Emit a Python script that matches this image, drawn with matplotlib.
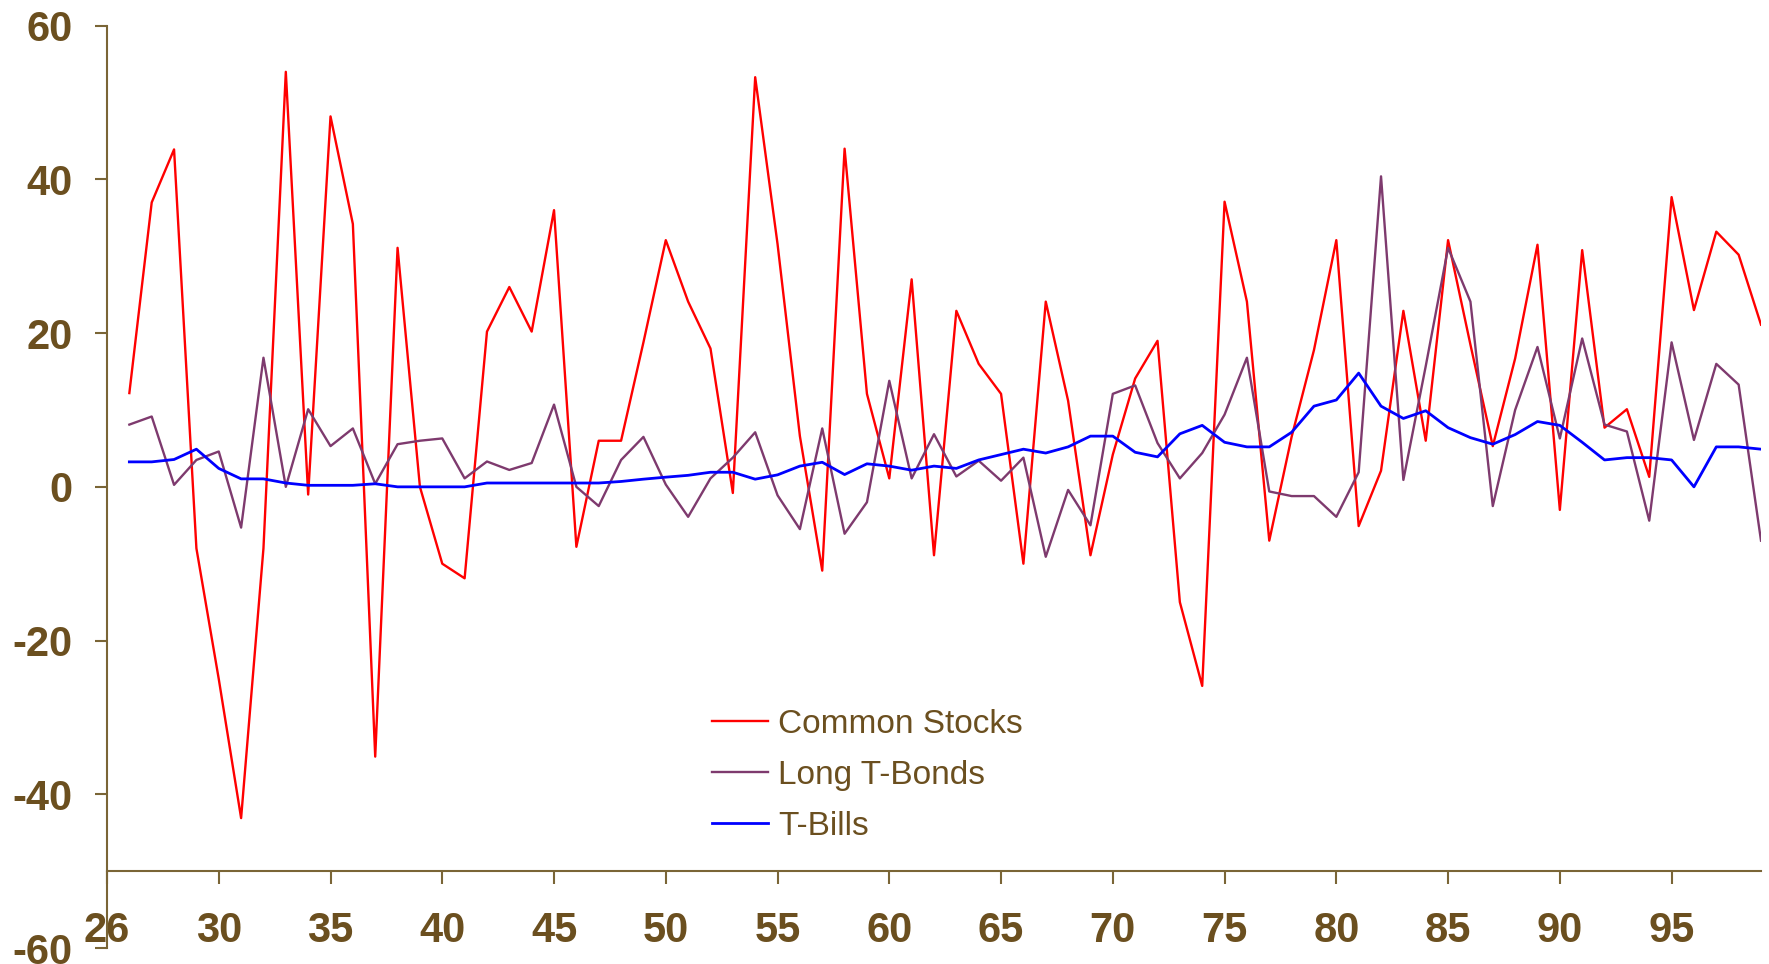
import numpy as np
import matplotlib
matplotlib.use("Agg")
import matplotlib.pyplot as plt

# Annual returns (%) by year, 1926-1999
years = np.arange(1926, 2000)

common_stocks = [
    12.2, 37.0, 43.9, -8.0, -25.0, -43.1, -8.0, 54.0, -1.0, 48.2,
    34.2, -35.1, 31.1, 0.0, -10.0, -11.9, 20.2, 26.0, 20.2, 36.0,
    -7.8, 6.0, 6.0, 18.8, 32.1, 24.1, 18.0, -0.8, 53.3, 31.6,
    6.6, -10.9, 44.0, 12.1, 1.1, 27.0, -8.9, 22.9, 16.0, 12.1,
    -10.0, 24.1, 11.2, -8.9, 4.2, 14.1, 19.0, -15.0, -25.9, 37.1,
    24.1, -7.0, 6.5, 17.8, 32.1, -5.1, 2.1, 22.9, 6.0, 32.1,
    18.5, 5.3, 16.7, 31.5, -3.0, 30.8, 7.7, 10.1, 1.3, 37.7,
    23.0, 33.2, 30.2, 21.1,
]

long_t_bonds = [
    8.1, 9.15, 0.26, 3.5, 4.6, -5.3, 16.8, 0.0, 10.1, 5.3,
    7.6, 0.4, 5.55, 6.0, 6.3, 1.1, 3.3, 2.2, 3.1, 10.7,
    0.0, -2.5, 3.5, 6.5, 0.3, -3.9, 1.1, 3.8, 7.1, -1.1,
    -5.5, 7.6, -6.1, -2.0, 13.8, 1.1, 6.85, 1.35, 3.4, 0.8,
    3.8, -9.1, -0.4, -5.0, 12.1, 13.2, 5.7, 1.1, 4.4, 9.4,
    16.8, -0.6, -1.2, -1.2, -3.9, 1.9, 40.4, 0.9, 15.7, 31.1,
    24.1, -2.5, 10.0, 18.2, 6.3, 19.3, 8.1, 7.2, -4.4, 18.8,
    6.1, 16.0, 13.3, -7.0,
]

t_bills = [
    3.25, 3.25, 3.56, 4.9, 2.4, 1.04, 1.04, 0.5, 0.2, 0.2,
    0.2, 0.4, 0.0, 0.0, 0.0, 0.0, 0.5, 0.5, 0.5, 0.5,
    0.5, 0.5, 0.7, 1.0, 1.26, 1.5, 1.9, 1.9, 1.0, 1.56,
    2.7, 3.2, 1.6, 3.0, 2.7, 2.17, 2.7, 2.4, 3.5, 4.2,
    4.9, 4.4, 5.2, 6.6, 6.6, 4.5, 3.9, 6.9, 8.0, 5.8,
    5.2, 5.2, 7.1, 10.5, 11.3, 14.8, 10.5, 8.9, 9.9, 7.7,
    6.4, 5.55, 6.8, 8.5, 8.0, 5.8, 3.5, 3.8, 3.8, 3.5,
    0.0, 5.2, 5.2, 4.9,
]

x_tick_years = [1925, 1930, 1935, 1940, 1945, 1950, 1955, 1960,
                1965, 1970, 1975, 1980, 1985, 1990, 1995]
x_tick_labels = ["26", "30", "35", "40", "45", "50", "55", "60",
                 "65", "70", "75", "80", "85", "90", "95"]
y_ticks = [-60, -40, -20, 0, 20, 40, 60]

TEXT = "#6B4F1F"
AXIS = "#7A6536"

plt.rcParams["font.family"] = ["Liberation Sans", "DejaVu Sans"]

W, H = 1769, 964
fig = plt.figure(figsize=(W / 100, H / 100), dpi=100)
ax = fig.add_axes([107 / W, 16 / H, (1761 - 107) / W, (948 - 25.7) / H])

ax.plot(years, common_stocks, color="#FF0000", lw=1.7, label="Common Stocks")
ax.plot(years, long_t_bonds, color="#7E3A6E", lw=1.7, label="Long T-Bonds")
ax.plot(years, t_bills, color="#0000FF", lw=2.0, label="T-Bills")

ax.set_xlim(1925, 1999)
ax.set_ylim(-60, 60)

for side in ("top", "right"):
    ax.spines[side].set_visible(False)
ax.spines["bottom"].set_position(("data", -50))
for side in ("left", "bottom"):
    ax.spines[side].set_color(AXIS)
    ax.spines[side].set_linewidth(1.5)

ax.set_yticks(y_ticks)
ax.set_yticklabels([str(v) for v in y_ticks])
ax.set_xticks(x_tick_years)
ax.set_xticklabels(x_tick_labels)

ax.tick_params(axis="y", direction="out", length=8.6, width=1.5, color=AXIS,
               pad=16, labelsize=30, labelcolor=TEXT)
ax.tick_params(axis="x", direction="out", length=9.4, width=1.5, color=AXIS,
               pad=19, labelsize=30, labelcolor=TEXT)
for lbl in ax.get_xticklabels() + ax.get_yticklabels():
    lbl.set_fontweight("bold")

leg = ax.legend(loc="upper left", bbox_to_anchor=(711.5 / W, 1 - 709 / H),
                bbox_transform=fig.transFigure, frameon=False, fontsize=24,
                handlelength=1.7, handletextpad=0.3, labelspacing=0.6,
                borderpad=0, borderaxespad=0)
for t in leg.get_texts():
    t.set_color(TEXT)

fig.savefig("out.png", dpi=100)
